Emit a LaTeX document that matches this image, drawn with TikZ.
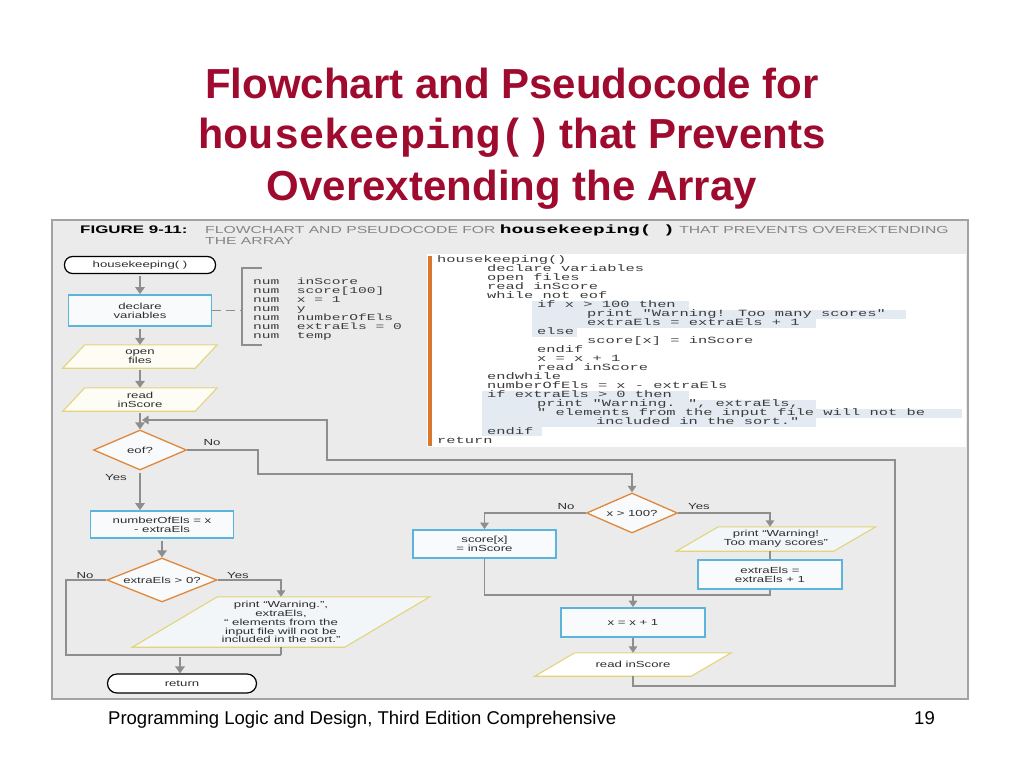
\documentclass[tikz,border=0pt]{standalone}
\usepackage{fontspec}
\setmainfont{Liberation Sans}
\newfontfamily\figsans[FakeStretch=1.5]{Liberation Sans}
\newfontfamily\figmono[FakeStretch=1.62]{Liberation Mono}
\newfontfamily\capsans[FakeStretch=1.54]{Liberation Sans}
\newfontfamily\titlemono{Liberation Mono}
\usetikzlibrary{shapes.geometric,arrows.meta,backgrounds}
\definecolor{titlered}{HTML}{9E0B2E}
\definecolor{panelbg}{HTML}{EBEBEB}
\definecolor{panelline}{HTML}{A3A3A3}
\definecolor{procblue}{HTML}{5BB4DA}
\definecolor{decorange}{HTML}{E0873A}
\definecolor{ioyellow}{HTML}{E3D47C}
\definecolor{linkgray}{HTML}{8E8E8E}
\definecolor{codebar}{HTML}{D9772E}
\definecolor{hlblue}{HTML}{E4EAF1}
\definecolor{capgray}{HTML}{858585}
\definecolor{figtext}{HTML}{2E2E2E}
\definecolor{codetext}{HTML}{3C3C3C}
\definecolor{boxfill}{HTML}{F8FAFC}
\definecolor{iofillA}{HTML}{FEFDF5}
\definecolor{iofillB}{HTML}{F3F6F9}
\newcommand\iopath[3]{\path[iobox=#3] ([xshift=-#2pt]#1.south west) -- ([xshift=#2pt]#1.north west) -- ([xshift=#2pt]#1.north east) -- ([xshift=-#2pt]#1.south east) -- cycle;}
\tikzset{
  figfont/.style={font=\figsans\fontsize{8.8}{8.9}\selectfont, text=figtext},
  term/.style={figfont, draw=black, line width=1.2, fill=white, rounded corners=8, minimum height=17, inner sep=0},
  proc/.style={figfont, draw=procblue, line width=1.8, fill=boxfill, align=center, inner sep=0},
  dec/.style={figfont, shape=diamond, aspect=2.5, draw=decorange, line width=1.3, fill=boxfill, inner sep=0},
  iotext/.style={figfont, align=center, inner sep=0},
  iobox/.style={draw=ioyellow, line width=1.1, fill=#1},
  link/.style={draw=linkgray, line width=1.5},
  arr/.style={link, -{Triangle[width=8.5pt,length=6.5pt]}},
  marr/.style={draw=linkgray, line width=2.3, shorten <=2pt, -{Triangle[width=9.5pt,length=7pt]}},
  lab/.style={figfont, inner sep=0},
  titlefont/.style={font=\fontsize{42}{50}\selectfont\bfseries, text=titlered, inner sep=0},
  codefont/.style={font=\figmono\fontsize{9.5}{9.05}\selectfont, text=codetext, inner sep=0, align=left},
}
\begin{document}
\begin{tikzpicture}[x=1pt,y=-1pt]
\useasboundingbox (0,0) rectangle (1024,768);
\begin{scope}[on background layer]
  \fill[white] (0,0) rectangle (1024,768);
  \filldraw[fill=panelbg, draw=panelline, line width=1.2] (52,220) rectangle (968,699);
  \fill[white] (427,254) rectangle (966,447);
  % highlights in pseudocode
  \fill[hlblue] (532,300.8) rectangle (689,309.8);
  \fill[hlblue] (532,309.8) rectangle (906,318.9);
  \fill[hlblue] (532,318.9) rectangle (816,327.9);
  \fill[hlblue] (532,327.9) rectangle (577,336.9);
  \fill[hlblue] (482,391.3) rectangle (689,400.3);
  \fill[hlblue] (482,400.3) rectangle (816,409.3);
  \fill[hlblue] (482,409.3) rectangle (962,418.4);
  \fill[hlblue] (482,418.4) rectangle (816,427.4);
  \fill[hlblue] (482,427.4) rectangle (542,436.4);
  \fill[codebar] (428,256) rectangle (432,446);
\end{scope}

% title
\node[titlefont, anchor=base] (t1) at (512,98) {Flowchart and Pseudocode for};
\node[titlefont, anchor=base] (t2) at (512,148) {{\titlemono housekeeping()}\hspace{8pt}that Prevents};
\node[titlefont, anchor=base] (t3) at (512,200) {Overextending the Array};

% caption
\node[anchor=base west, inner sep=0, font=\capsans\bfseries\fontsize{11}{12}\selectfont] (fig) at (80,233) {FIGURE 9-11:};
\node[anchor=base west, inner sep=0, text=capgray, font=\capsans\fontsize{10.2}{12}\selectfont] (cap1) at (205,233) {FLOWCHART AND PSEUDOCODE FOR {\color{black}\figmono\bfseries\fontsize{12}{12}\selectfont housekeeping( )} THAT PREVENTS OVEREXTENDING};
\node[anchor=base west, inner sep=0, text=capgray, font=\capsans\fontsize{10.2}{12}\selectfont] (cap2) at (205,244) {THE ARRAY};

% pseudocode
\node[codefont, anchor=north west] (code) at (437,255) {%
housekeeping()\\
\hspace*{50pt}declare variables\\
\hspace*{50pt}open files\\
\hspace*{50pt}read inScore\\
\hspace*{50pt}while not eof\\
\hspace*{100pt}if x > 100 then\\
\hspace*{150pt}print "Warning! Too many scores"\\
\hspace*{150pt}extraEls = extraEls + 1\\
\hspace*{100pt}else\\
\hspace*{150pt}score[x] = inScore\\
\hspace*{100pt}endif\\
\hspace*{100pt}x = x + 1\\
\hspace*{100pt}read inScore\\
\hspace*{50pt}endwhile\\
\hspace*{50pt}numberOfEls = x - extraEls\\
\hspace*{50pt}if extraEls > 0 then\\
\hspace*{100pt}print "Warning. ", extraEls,\\
\hspace*{100pt}" elements from the input file will not be\\
\hspace*{159pt}included in the sort."\\
\hspace*{50pt}endif\\
return};

% declarations
\node[font=\figmono\fontsize{9}{8.9}\selectfont, text=codetext, inner sep=0, align=left, anchor=north west] (decls) at (253,278) {%
num\ \ inScore\\
num\ \ score[100]\\
num\ \ x = 1\\
num\ \ y\\
num\ \ numberOfEls\\
num\ \ extraEls = 0\\
num\ \ temp};

% flowchart nodes
\node[term, minimum width=151] (hk) at (140,265) {housekeeping( )};
\node[proc, minimum width=143, minimum height=31] (decl) at (140,310.5) {declare\\variables};
\node[iotext, minimum width=132, minimum height=23] (open) at (140,356.5) {open\\files};
\node[iotext, minimum width=132, minimum height=23] (readA) at (140,399.5) {read\\inScore};
\node[dec, minimum width=93, minimum height=40] (eof) at (140,450) {eof?};
\node[proc, minimum width=143, minimum height=27] (nel) at (162,524.5) {numberOfEls = x\\- extraEls};
\node[dec, minimum width=110, minimum height=44] (ed) at (162,580) {extraEls > 0?};
\node[iotext, minimum width=212, minimum height=50] (warn1) at (281,622) {print “Warning.”,\\extraEls,\\“ elements from the\\input file will not be\\included in the sort.”};
\node[term, minimum width=149, minimum height=19, rounded corners=9.5] (ret) at (182,683.5) {return};
\node[dec, minimum width=91, minimum height=40] (dx) at (632,513) {x > 100?};
\node[proc, minimum width=143, minimum height=28] (sc) at (484.5,544) {score[x]\\= inScore};
\node[iotext, minimum width=157, minimum height=24] (warn2) at (776,539) {print “Warning!\\Too many scores”};
\node[proc, minimum width=144, minimum height=29] (ext) at (770,574.5) {extraEls =\\extraEls + 1};
\node[proc, minimum width=144, minimum height=29] (xinc) at (633,622.5) {x = x + 1};
\node[iotext, minimum width=156, minimum height=23] (readB) at (633,664.5) {read inScore};

% parallelogram outlines
\begin{scope}[on background layer]
  \iopath{open}{11}{iofillA}
  \iopath{readA}{11}{iofillA}
  \iopath{warn1}{42.5}{iofillB}
  \iopath{warn2}{21}{iofillB}
  \iopath{readB}{20}{white}
\end{scope}

% labels
\node[lab] (noA) at (212,443) {No};
\node[lab] (yesA) at (116,478) {Yes};
\node[lab] (noB) at (566,507) {No};
\node[lab] (yesB) at (699,507) {Yes};
\node[lab] (noC) at (85,576) {No};
\node[lab] (yesC) at (238,576) {Yes};

% helper coordinates
\coordinate (bt) at (262,268);
\coordinate (bb) at (262,345);
\coordinate (brk) at (242,310.5);
\coordinate (jl) at (66,655);
\coordinate (jr) at (281,655);
\coordinate (j1) at (180,655);
\coordinate (nA) at (258,474);
\coordinate (jm) at (633,595);
\coordinate (jm2) at (770,595);
\coordinate (lb) at (633,686);
\coordinate (lr) at (895,460);
\coordinate (lt) at (327,420);
\coordinate (lp) at (142,420);

% connectors
\draw[marr] (hk.south) -- (decl.north);
\draw[marr] (decl.south) -- (open.north);
\draw[marr] (open.south) -- (readA.north);
\draw[marr] (readA.south) -- (eof.north);
\draw[marr] (eof.south) -- (eof.south |- nel.north);
\draw[marr] (nel.south) -- (ed.north);
\draw[arr] (ed.east) -| (warn1.north);
\draw[link] (ed.west) -| (jl) -- (jr);
\draw[link] (warn1.south) -- (jr);
\draw[marr] (j1) -- (j1 |- ret.north);
\draw[link, line width=1.1, dash pattern=on 9pt off 5pt] (decl.east) -- (brk);
\draw[link, line width=1.1] (bt) -- (bt -| brk) -- (bb -| brk) -- (bb);
\draw[arr] (eof.east) -| (nA) -| (dx.north);
\draw[arr] (dx.west) -| (sc.north);
\draw[arr] (dx.east) -| (warn2.north -| ext.north);
\draw[link] (warn2.south -| ext.north) -- (ext.north);
\draw[link] (sc.south) |- (jm2) -- (ext.south);
\draw[arr] (jm) -- (xinc.north);
\draw[arr] (xinc.south) -- (readB.north);
\draw[arr] (readB.south) -- (lb) -| (lr) -| (lt) -- (lp);

% footer
\node[anchor=base west, inner sep=0, font=\fontsize{18.5}{20}\selectfont] (foot) at (108,724) {Programming Logic and Design, Third Edition Comprehensive};
\node[anchor=base east, inner sep=0, font=\fontsize{18.5}{20}\selectfont] (page) at (935,724) {19};
\end{tikzpicture}
\end{document}
